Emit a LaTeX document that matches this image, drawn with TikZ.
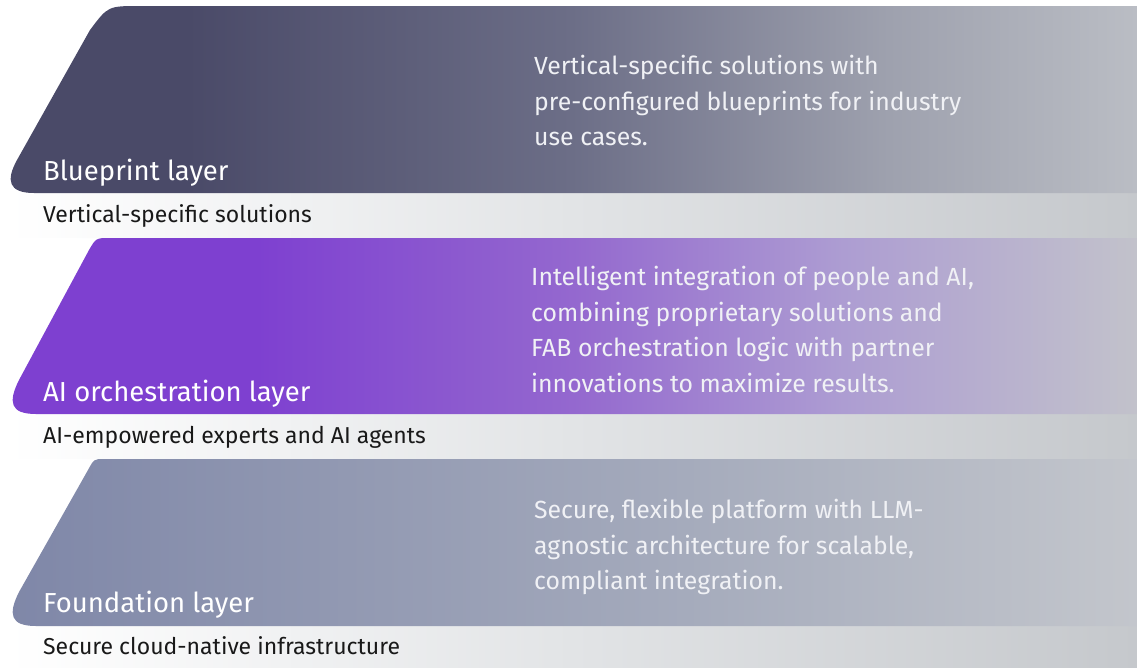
\documentclass[tikz,border=0pt]{standalone}
\usepackage{fontspec}
\setmainfont{Fira Sans}
\usepackage{tikz}
\usetikzlibrary{positioning}

\definecolor{bpdark}{HTML}{4A4A68}
\definecolor{bpmid}{HTML}{6C6E87}
\definecolor{bpsoft}{HTML}{9EA1AE}
\definecolor{bplight}{HTML}{BABDC4}
\definecolor{aidark}{HTML}{7E40D0}
\definecolor{aimid}{HTML}{9468CF}
\definecolor{aisoft}{HTML}{AD9DD2}
\definecolor{ailight}{HTML}{C2C2CB}
\definecolor{fddark}{HTML}{7F87A8}
\definecolor{fdmid}{HTML}{A5ABBC}
\definecolor{fdlight}{HTML}{C3C6CC}
\definecolor{stripmid}{HTML}{E2E4E6}
\definecolor{stripend}{HTML}{C5C8CC}
\definecolor{blurbtext}{HTML}{F0F1F5}

% horizontal fills for the three layers and their caption bands
\pgfdeclarehorizontalshading{blueprintfill}{100bp}{color(0bp)=(bpdark); color(25bp)=(bpdark);
  color(33bp)=(bpdark); color(50bp)=(bpmid); color(64bp)=(bpsoft); color(75bp)=(bplight); color(100bp)=(bplight)}
\pgfdeclarehorizontalshading{orchfill}{100bp}{color(0bp)=(aidark); color(25bp)=(aidark);
  color(36bp)=(aidark); color(50bp)=(aimid); color(62bp)=(aisoft); color(75bp)=(ailight); color(100bp)=(ailight)}
\pgfdeclarehorizontalshading{foundfill}{100bp}{color(0bp)=(fddark); color(25bp)=(fddark);
  color(55bp)=(fdmid); color(75bp)=(fdlight); color(100bp)=(fdlight)}
\pgfdeclarehorizontalshading{bandfill}{100bp}{color(0bp)=(white); color(25bp)=(white);
  color(50bp)=(stripmid); color(75bp)=(stripend); color(100bp)=(stripend)}

\begin{document}
\begin{tikzpicture}[
  x=1pt, y=-1pt,
  title/.style={anchor=base west, inner sep=0pt, text=white,
                font=\fontsize{27.5}{32}\selectfont},
  blurb/.style={anchor=north west, inner sep=0pt, align=left, text=blurbtext,
                font=\fontsize{24.8}{35.5}\selectfont},
  tagline/.style={anchor=base west, inner sep=0pt, text=black!90,
                  font=\fontsize{23}{28}\selectfont}
]
\useasboundingbox (0,0) rectangle (1137,667);

%% --- Blueprint layer ---
\shade[shading=bandfill] (8,193) -- (1137,193) -- (1137,238) -- (24,238)
  .. controls (8,238) .. (8,222) -- cycle;
\shade[shading=blueprintfill] (1137,6) -- (140,6) .. controls (108,6) .. (90,30)
  -- (17,160) .. controls (6,180) and (8,193) .. (34,193) -- (1137,193) -- cycle;
\node[title] (bptitle) at (43,180) {Blueprint layer};
\node[blurb] (bpblurb) at (534,55)
  {Vertical-specific solutions with\\pre-configured blueprints for industry\\use cases.};
\node[tagline] (bptag) at (43,222) {Vertical-specific solutions};

%% --- AI orchestration layer ---
\shade[shading=bandfill] (8,414) -- (1137,414) -- (1137,459) -- (24,459)
  .. controls (8,459) .. (8,443) -- cycle;
\shade[shading=orchfill] (1137,238) -- (110,238) .. controls (96,238) .. (89,250)
  -- (19,380) .. controls (8,402) and (10,414) .. (36,414) -- (1137,414) -- cycle;
\node[title] (aititle) at (43,401) {AI orchestration layer};
\node[blurb] (aiblurb) at (531,266)
  {Intelligent integration of people and AI,\\combining proprietary solutions and\\FAB orchestration logic with partner\\innovations to maximize results.};
\node[tagline] (aitag) at (43,443) {AI-empowered experts and AI agents};

%% --- Foundation layer ---
\shade[shading=bandfill] (8,626) -- (1137,626) -- (1137,667) -- (8,667) -- cycle;
\shade[shading=foundfill] (1137,459) -- (104,459) .. controls (94,459) .. (88,470)
  -- (19,592) .. controls (8,614) and (10,626) .. (36,626) -- (1137,626) -- cycle;
\node[title] (fdtitle) at (43,612) {Foundation layer};
\node[blurb] (fdblurb) at (534,499)
  {Secure, flexible platform with LLM-\\agnostic architecture for scalable,\\compliant integration.};
\node[tagline] (fdtag) at (43,654) {Secure cloud-native infrastructure};
\end{tikzpicture}
\end{document}
